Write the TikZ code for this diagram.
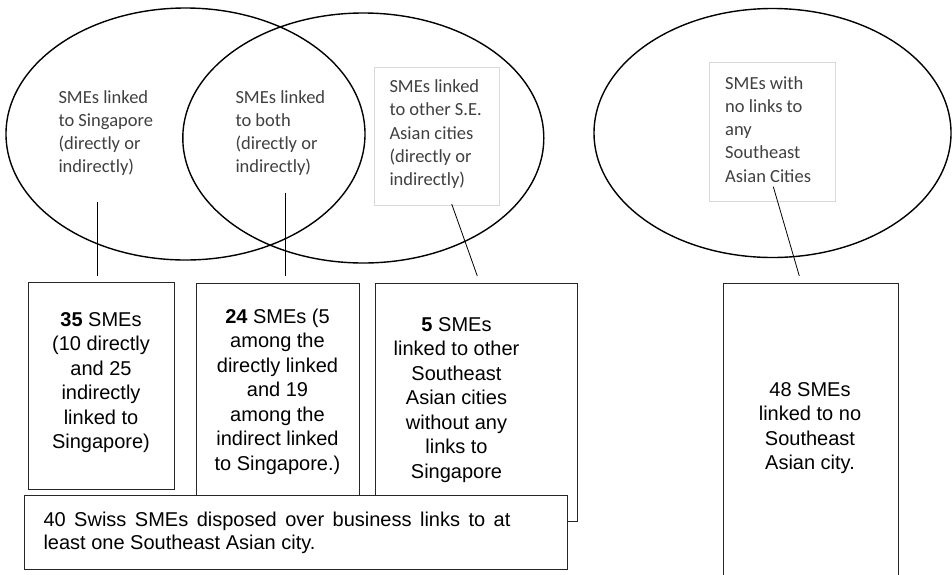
\documentclass[tikz,border=0pt]{standalone}
\usepackage{fontspec}
\setmainfont{Liberation Sans}
\newfontfamily\calfont{Carlito}
\usetikzlibrary{shapes.geometric}
\begin{document}
\begin{tikzpicture}[x=1pt,y=-1pt,
  venn/.style={draw=black, line width=1.4pt, ellipse, inner sep=0pt},
  lbox/.style={draw=black!15, fill=white, line width=0.6pt, rectangle, inner sep=0pt},
  ltext/.style={font=\calfont\fontsize{18.5}{23.3}\selectfont, text=black!75, align=left, anchor=base west, inner sep=0pt},
  cbox/.style={draw=black!85, line width=1pt, fill=white, rectangle, inner sep=0pt},
  ctext/.style={font=\fontsize{20}{24.5}\selectfont, align=center, anchor=base, inner sep=0pt},
  conn/.style={draw=black, line width=0.8pt}]

\useasboundingbox (0,0) rectangle (952,574);
\clip (0,0) rectangle (952,574);

% Venn ellipses
\node[venn, minimum width=359pt, minimum height=252pt] (e1) at (185.5,134) {};
\node[venn, minimum width=361pt, minimum height=250pt] (e2) at (363.3,138) {};
\node[venn, minimum width=357pt, minimum height=249pt] (e3) at (772.5,133) {};

% light label boxes
\node[lbox, minimum width=124.7pt, minimum height=138pt] (b3) at (436.7,136) {};
\node[lbox, minimum width=125.7pt, minimum height=138.7pt] (b4) at (772.2,131.7) {};

% labels (anchored at the baseline of the last line)
\node[ltext] (t1) at (58.3,172.9) {SMEs linked\\to Singapore\\(directly or\\indirectly)};
\node[ltext] (t2) at (235.3,172.9) {SMEs linked\\to both\\(directly or\\indirectly)};
\node[ltext] (t3) at (389.3,185.7) {SMEs linked\\to other S.E.\\Asian cities\\(directly or\\indirectly)};
\node[ltext] (t4) at (725,182.2) {SMEs with\\no links to\\any\\Southeast\\Asian Cities};

% count boxes
\node[cbox, minimum width=146pt, minimum height=207pt] (c1) at (101,385.5) {};
\node[cbox, minimum width=163pt, minimum height=238pt] (c2) at (277.5,402) {};
\node[cbox, minimum width=202pt, minimum height=238pt] (c3) at (476,402) {};
\node[cbox, minimum width=175pt, minimum height=317pt] (c4) at (810.5,441.5) {};
\node[cbox, minimum width=542.7pt, minimum height=74pt] (c5) at (295.65,532) {};

\node[ctext] (d1) at (101,448.5) {\textbf{35} SMEs\\(10 directly\\and 25\\indirectly\\linked to\\Singapore)};
\node[ctext] (d2) at (277.5,470) {\textbf{24} SMEs (5\\among the\\directly linked\\and 19\\among the\\indirect linked\\to Singapore.)};
\node[ctext] (d3) at (456.5,478) {\textbf{5} SMEs\\linked to other\\Southeast\\Asian cities\\without any\\links to\\Singapore};
\node[ctext] (d4) at (810,469.5) {48 SMEs\\linked to no\\Southeast\\Asian city.};
\node[font=\fontsize{20}{23}\selectfont, text width=467pt, align=justify, anchor=base west, inner sep=0pt] (d5) at (43.3,526.5) {40 Swiss SMEs disposed over business links to at least one Southeast Asian city.};

% connectors
\coordinate (p1) at (97.7,201.7); \coordinate (q1) at (97.7,276);
\coordinate (p2) at (285,192.7);  \coordinate (q2) at (285,276);
\coordinate (p3) at (451.7,204);  \coordinate (q3) at (477.3,276);
\coordinate (p4) at (773.3,186.7); \coordinate (q4) at (799.3,276);
\draw[conn] (p1) -- (q1);
\draw[conn] (p2) -- (q2);
\draw[conn] (p3) -- (q3);
\draw[conn] (p4) -- (q4);
\end{tikzpicture}
\end{document}
